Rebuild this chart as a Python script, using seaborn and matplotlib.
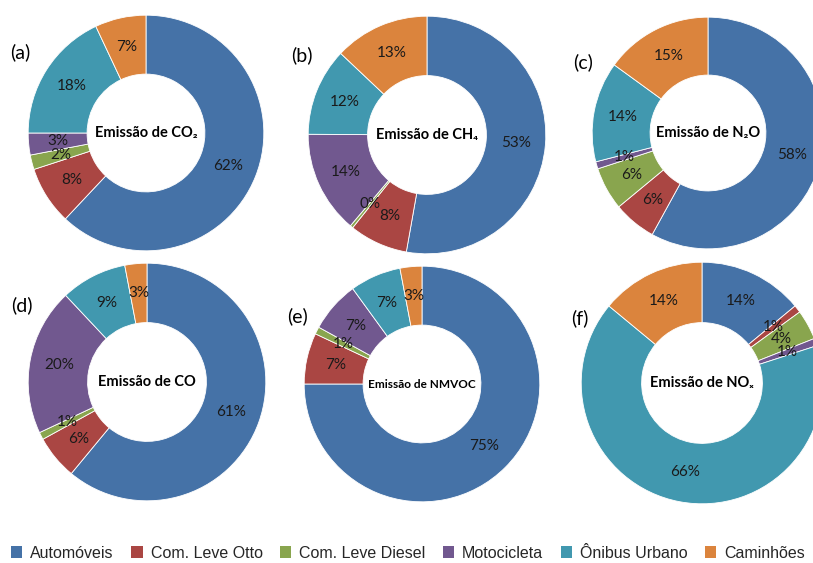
import matplotlib
matplotlib.use('Agg')
import matplotlib.pyplot as plt
import seaborn as sns
from matplotlib.patches import Patch

sns.set_theme(style='white')
plt.rcParams['font.family'] = ['Lato', 'DejaVu Sans']

# categories (clockwise from 12 o'clock)
categories = ['Automóveis', 'Com. Leve Otto', 'Com. Leve Diesel',
              'Motocicleta', 'Ônibus Urbano', 'Caminhões']
colors = ['#4572A7', '#AA4643', '#89A54E', '#71588F', '#4198AF', '#DB843D']

# percent shares per pollutant
co2 = [62, 8, 2, 3, 18, 7]
ch4 = [53, 8, 0.4, 14, 12, 13]
n2o = [58, 6, 6, 1, 14, 15]
co = [61, 6, 1, 20, 9, 3]
nmvoc = [75, 7, 1, 7, 7, 3]
nox = [14, 1, 4, 1, 66, 14]

titles = ['Emissão de CO₂', 'Emissão de CH₄', 'Emissão de N₂O',
          'Emissão de CO', 'Emissão de NMVOC', 'Emissão de NOₓ']
tags = ['(a)', '(b)', '(c)', '(d)', '(e)', '(f)']
series = [co2, ch4, n2o, co, nmvoc, nox]

W, H = 813, 563
fig = plt.figure(figsize=(W / 100, H / 100), dpi=100)

# pixel centre and radius of each donut
layout = [(146, 133, 119), (427, 135, 120), (708, 133, 117),
          (147, 382, 120), (422, 384, 119), (702, 383, 122)]
tag_pos = [(20, 52), (302, 55), (583, 62), (22, 305), (297, 316), (580, 318)]

for vals, title, (cx, cy, r), tag, tp in zip(series, titles, layout, tags, tag_pos):
    ax = fig.add_axes([(cx - r) / W, 1 - (cy + r) / H, 2 * r / W, 2 * r / H])
    total = sum(vals)
    wedges, texts, autotexts = ax.pie(
        vals, colors=colors, startangle=90, counterclock=False,
        wedgeprops=dict(width=0.5, edgecolor='white', linewidth=0.6),
        autopct=lambda p: f'{p * total / 100:.0f}%', pctdistance=0.75,
        textprops=dict(fontsize=11, color='#1a1a1a'))
    ax.set_xlim(-1.01, 1.01)
    ax.set_ylim(-1.01, 1.01)
    ax.set_aspect('auto')
    ax.axis('off')
    fs = 8.5 if 'NMVOC' in title else 10.5
    ax.text(0, 0, title, ha='center', va='center', fontsize=fs,
            fontweight='bold', color='black')
    fig.text(tp[0] / W, 1 - tp[1] / H, tag, ha='center', va='center',
             fontsize=14, color='black')

handles = [Patch(facecolor=c, edgecolor='none') for c in colors]
fig.legend(handles, categories, loc='center left', bbox_to_anchor=(-0.004, 1 - 553 / H),
           ncol=6, frameon=False, handlelength=0.7, handleheight=0.7,
           handletextpad=0.5, columnspacing=1.1,
           prop=dict(family=['Liberation Sans', 'DejaVu Sans'], size=11.5))

fig.savefig('out.png', dpi=100)
